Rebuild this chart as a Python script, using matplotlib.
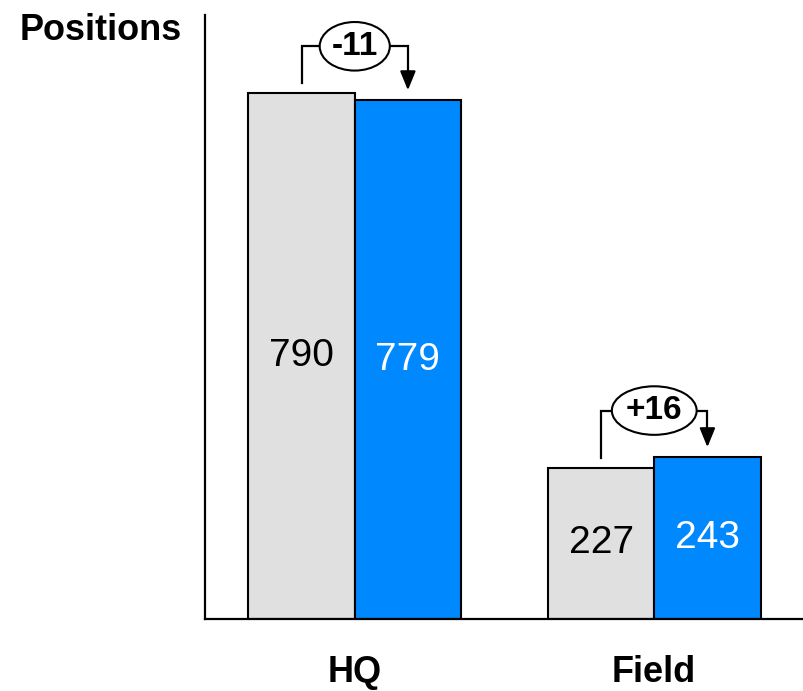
import matplotlib.pyplot as plt

plt.rcParams['font.family'] = ['Liberation Sans', 'DejaVu Sans']

categories = ["HQ", "Field"]
before = [790, 227]
after = [779, 243]
changes = ["-11", "+16"]

gray = "#e0e0e0"
blue = "#0088ff"
bar_w = 0.355

fig = plt.figure(figsize=(8.04, 6.91), dpi=100)
ax = fig.add_axes([205 / 804, 72 / 691, 599 / 804, 604 / 691])

xs = list(range(len(categories)))
x_before = [x - bar_w / 2 for x in xs]
x_after = [x + bar_w / 2 for x in xs]

ax.bar(x_before, before, width=bar_w, color=gray, edgecolor="black", linewidth=1.5, zorder=2)
ax.bar(x_after, after, width=bar_w, color=blue, edgecolor="black", linewidth=1.5, zorder=2)

for xb, xa, vb, va in zip(x_before, x_after, before, after):
    ax.text(xb, vb / 2, str(vb), ha="center", va="center", fontsize=28, color="black", zorder=3)
    ax.text(xa, va / 2, str(va), ha="center", va="center", fontsize=28, color="white", zorder=3)

# change brackets: up from the old bar, across, down with an arrow onto the new bar
for x, xb, xa, vb, va, label in zip(xs, x_before, x_after, before, after, changes):
    y_top = max(vb, va) + 70
    ax.plot([xb, xb, xa, xa], [vb + 15, y_top, y_top, va + 35],
            color="black", lw=1.6, solid_joinstyle="miter", zorder=3)
    ax.annotate("", xy=(xa, va + 15), xytext=(xa, va + 40),
                arrowprops=dict(arrowstyle="-|>,head_length=1.15,head_width=0.47",
                                color="black", lw=1.6, shrinkA=0, shrinkB=0,
                                mutation_scale=10), zorder=4)
    ax.text(x, y_top, label, ha="center", va="center", fontsize=24, fontweight="bold",
            zorder=5,
            bbox=dict(boxstyle="ellipse,pad=0.05", facecolor="white", edgecolor="black", lw=1.5))

ax.set_xlim(-0.5, 1.5)
ax.set_ylim(0, 907)
ax.set_xticks(xs)
ax.set_xticklabels(categories, fontsize=26, fontweight="bold")
ax.tick_params(axis="x", length=0, pad=26)
ax.set_yticks([])
ax.spines["top"].set_visible(False)
ax.spines["right"].set_visible(False)
ax.spines["left"].set_linewidth(1.6)
ax.spines["bottom"].set_linewidth(1.6)

fig.text(20 / 804, 1 - 30 / 691, "Positions", ha="left", va="center",
         fontsize=26, fontweight="bold")

fig.savefig("out.png", dpi=100)
